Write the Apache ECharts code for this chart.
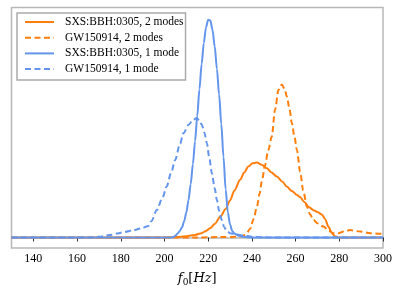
<!DOCTYPE html>
<html><head><meta charset="utf-8">
<script src="https://cdn.jsdelivr.net/npm/echarts@6/dist/echarts.min.js"></script>
<style>html,body{margin:0;padding:0;background:#fff}#c{width:399px;height:293px}</style>
</head><body><div id="c"></div>
<script>
var seriesNames = ['SXS:BBH:0305, 2 modes','GW150914, 2 modes','SXS:BBH:0305, 1 mode','GW150914, 1 mode'];
var xTicks = [140,160,180,200,220,240,260,280,300];

var sxs2Hz  = [130,200,205,210,214,217,219,221,223,225.5,228,230,232,234.6,236.5,238.4,240.3,242.3,244.5,246.8,249,251.4,254,256,258.3,260.6,262,264,266,268.2,270,272,273.5,275,276.5,278,280,300];
var sxs2Val = [0,0,0.002,0.006,0.012,0.02,0.03,0.043,0.062,0.095,0.13,0.17,0.215,0.264,0.298,0.325,0.34,0.343,0.333,0.317,0.298,0.279,0.255,0.233,0.213,0.195,0.185,0.163,0.14,0.125,0.117,0.105,0.085,0.05,0.022,0.006,0,0];

var gw2Hz  = [130,215,225,234,236,237.5,239.2,240.8,242.3,243.5,244.6,246,247.5,249.1,250.6,252.2,253.7,255,256,257.2,258.3,259.5,260.6,262.1,263.5,265.2,266.7,268.2,270,272.8,275,277.3,279.6,282,285,289.6,294.2,300];
var gw2Val = [0,0,0.002,0.003,0.008,0.018,0.04,0.085,0.141,0.2,0.26,0.33,0.4,0.462,0.585,0.677,0.7,0.68,0.646,0.59,0.524,0.46,0.401,0.3,0.215,0.141,0.105,0.08,0.065,0.05,0.033,0.02,0.02,0.027,0.034,0.027,0.02,0.016];

var sxs1Hz  = [130,203,204,205,206,207,208,209,210,211,212,213,214,215,216,217,218,219,220,221,222,223,224,225,226,227,228,229,230,231,232,234,236,240,300];
var sxs1Val = [0,0,0.002,0.008,0.018,0.03,0.046,0.074,0.115,0.171,0.244,0.335,0.441,0.558,0.679,0.793,0.891,0.962,0.997,0.993,0.95,0.874,0.772,0.655,0.52,0.37,0.22,0.115,0.06,0.03,0.018,0.008,0.003,0,0];

var gw1Hz  = [130,165,170,175,178,182,186,190,192.6,194,196.5,199,201,203,204.9,207,208.7,211,213,214.8,216,217.1,218.3,219.4,220.5,221.7,223,224,225,226.2,227.3,228.5,230,233,236,240,245,250,300];
var gw1Val = [0,0,0.003,0.011,0.018,0.026,0.034,0.044,0.053,0.075,0.126,0.18,0.233,0.295,0.355,0.425,0.478,0.516,0.537,0.547,0.535,0.516,0.48,0.432,0.365,0.294,0.225,0.172,0.122,0.08,0.048,0.03,0.02,0.014,0.009,0.004,0.001,0,0];

function pairs(xs, ys){ return xs.map(function(x,i){ return [x, ys[i]]; }); }

var ORANGE = '#ff7f0e', BLUE = '#6495ed';
function mk(name, xs, ys, color, dashed){
  return {
    name: name, type: 'line', data: pairs(xs, ys), showSymbol: false, symbol: 'none',
    smooth: 0.3, smoothMonotone: 'x',
    lineStyle: { color: color, width: 2, type: dashed ? [6, 3.5] : 'solid' },
    itemStyle: { color: color }, animation: false
  };
}

var chart = echarts.init(document.getElementById('c'), null, {renderer: 'canvas'});
chart.setOption({
  animation: false,
  backgroundColor: '#fff',
  grid: { left: 11.5, right: 16, top: 7.5, bottom: 45, show: true, borderColor: '#b8b8b8', borderWidth: 1.5, backgroundColor: 'transparent' },
  legend: {
    orient: 'vertical', left: 17, top: 13,
    data: seriesNames,
    itemWidth: 29, itemHeight: 14, itemGap: 1.7,
    padding: [2, 2, 4, 7],
    borderColor: '#aaaaaa', borderWidth: 1.5, backgroundColor: '#fff',
    itemStyle: { opacity: 0 },
    lineStyle: { width: 2 },
    textStyle: { fontFamily: 'Liberation Serif', fontSize: 11.5, lineHeight: 14, height: 14, color: '#000', padding: [0,0,0,6] }
  },
  xAxis: {
    type: 'value', min: 130, max: 300,
    axisLine: { show: true, lineStyle: { color: '#b8b8b8', width: 1.5 } },
    axisTick: { show: true, length: 4, customValues: xTicks, lineStyle: { color: '#333' } },
    axisLabel: { margin: 5, customValues: xTicks, fontFamily: 'Liberation Serif', fontSize: 12, color: '#000' },
    splitLine: { show: false },
    name: '{i|f}{s|0}{n|[}{i|Hz}{n|]}', nameLocation: 'middle', nameGap: 22,
    nameTextStyle: {
      rich: {
        i: { fontFamily: 'DejaVu Serif', fontStyle: 'italic', fontSize: 13, color: '#000' },
        n: { fontFamily: 'DejaVu Serif', fontSize: 13, color: '#000' },
        s: { fontFamily: 'DejaVu Serif', fontSize: 9, color: '#000', verticalAlign: 'bottom', padding: [8,0,0,0] }
      }
    }
  },
  yAxis: { type: 'value', min: -0.048, max: 1.053, show: false, splitLine: { show: false } },
  series: [
    mk(seriesNames[0], sxs2Hz, sxs2Val, ORANGE, false),
    mk(seriesNames[1], gw2Hz, gw2Val, ORANGE, true),
    mk(seriesNames[2], sxs1Hz, sxs1Val, BLUE, false),
    mk(seriesNames[3], gw1Hz, gw1Val, BLUE, true)
  ]
});
</script></body></html>
